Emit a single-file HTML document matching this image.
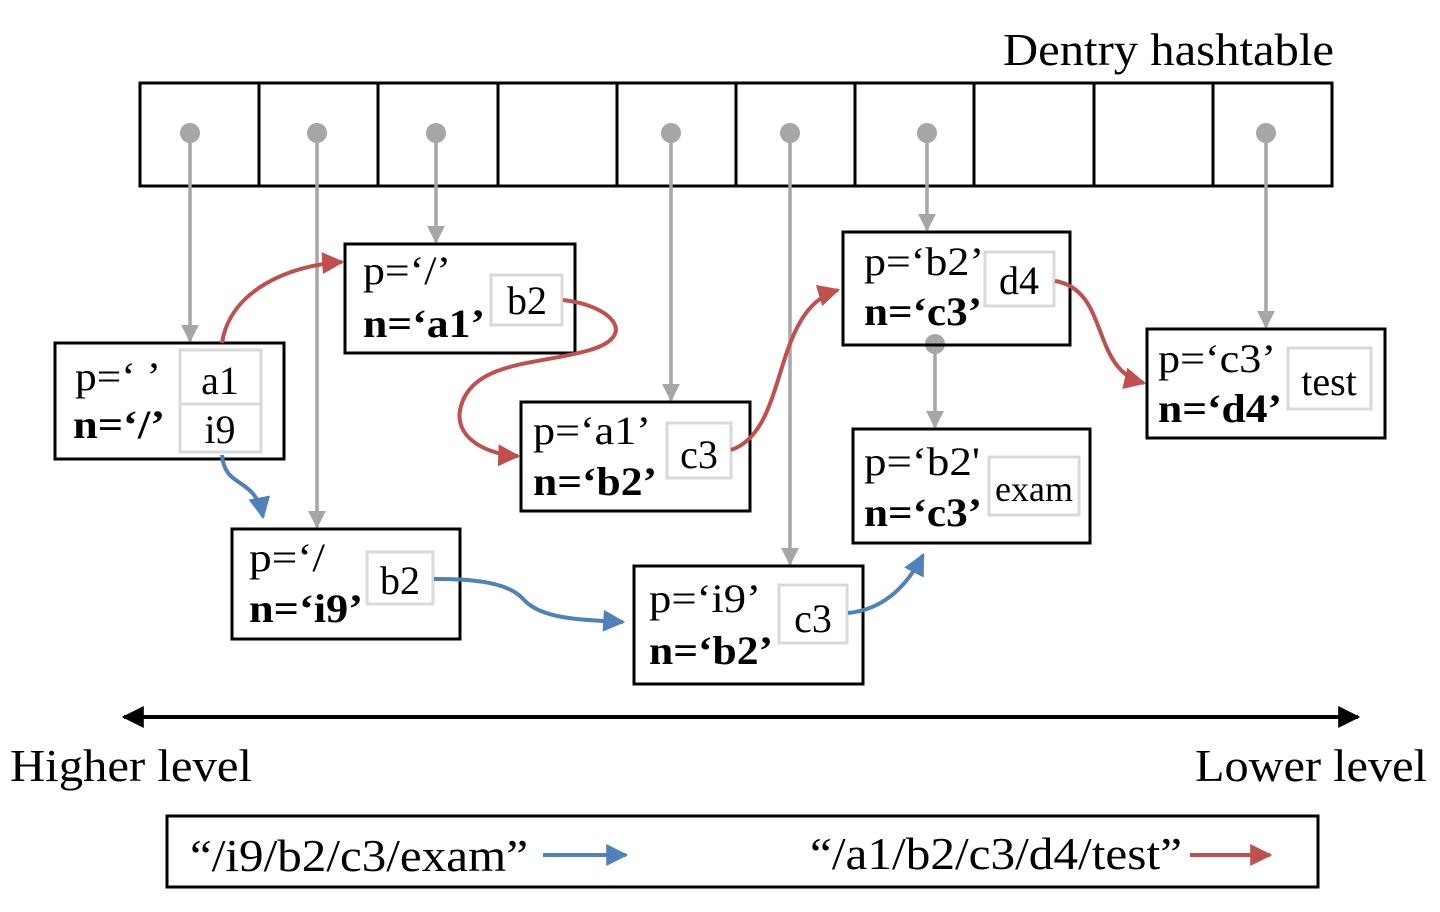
<!DOCTYPE html>
<html><head><meta charset="utf-8"><style>body{margin:0;background:#fff}svg{display:block}text{font-family:"Liberation Serif",serif}</style></head><body>
<svg width="1440" height="912" viewBox="0 0 1440 912" xmlns="http://www.w3.org/2000/svg">
<defs>
<marker id="gA" viewBox="0 0 10 10" refX="9" refY="5" markerWidth="18" markerHeight="18" orient="auto" markerUnits="userSpaceOnUse"><path d="M0,0L10,5L0,10z" fill="#a6a6a6"/></marker>
<marker id="rA" viewBox="0 0 10 10" refX="9" refY="5" markerWidth="22" markerHeight="22" orient="auto" markerUnits="userSpaceOnUse"><path d="M0,0L10,5L0,10z" fill="#c0504d"/></marker>
<marker id="bA" viewBox="0 0 10 10" refX="9" refY="5" markerWidth="22" markerHeight="22" orient="auto" markerUnits="userSpaceOnUse"><path d="M0,0L10,5L0,10z" fill="#4f81bd"/></marker>
<marker id="kA" viewBox="0 0 10 10" refX="9" refY="5" markerWidth="22" markerHeight="22" orient="auto-start-reverse" markerUnits="userSpaceOnUse"><path d="M0,0L10,5L0,10z" fill="#000"/></marker>
</defs>
<text x="1003" y="65" font-size="46" textLength="331" lengthAdjust="spacingAndGlyphs">Dentry hashtable</text>
<rect x="140" y="83" width="1192" height="103" fill="none" stroke="#000" stroke-width="3"/>
<g stroke="#000" stroke-width="3">
<line x1="259" y1="83" x2="259" y2="186"/><line x1="378" y1="83" x2="378" y2="186"/><line x1="498" y1="83" x2="498" y2="186"/><line x1="617" y1="83" x2="617" y2="186"/><line x1="736" y1="83" x2="736" y2="186"/><line x1="855" y1="83" x2="855" y2="186"/><line x1="974" y1="83" x2="974" y2="186"/><line x1="1094" y1="83" x2="1094" y2="186"/><line x1="1213" y1="83" x2="1213" y2="186"/>
</g>
<g fill="#a6a6a6"><circle cx="190" cy="133" r="10"/><circle cx="317" cy="133" r="10"/><circle cx="436" cy="133" r="10"/><circle cx="671" cy="133" r="10"/><circle cx="790" cy="133" r="10"/><circle cx="927" cy="133" r="10"/><circle cx="1266" cy="133" r="10"/><circle cx="935" cy="344" r="10"/></g>
<g stroke="#a6a6a6" stroke-width="3.5" marker-end="url(#gA)">
<line x1="190" y1="133" x2="190" y2="341"/><line x1="317" y1="133" x2="317" y2="527"/><line x1="436" y1="133" x2="436" y2="242"/><line x1="671" y1="133" x2="671" y2="400"/><line x1="790" y1="133" x2="790" y2="564"/><line x1="927" y1="133" x2="927" y2="230"/><line x1="1266" y1="133" x2="1266" y2="327"/><line x1="935" y1="344" x2="935" y2="427"/>
</g>
<g fill="none" stroke="#000" stroke-width="3">
<rect x="55" y="343" width="229" height="116"/><rect x="345" y="244" width="230" height="109"/><rect x="521" y="402" width="229" height="109"/><rect x="232" y="529" width="228" height="110"/><rect x="634" y="566" width="229" height="118"/><rect x="843" y="232" width="227" height="113"/><rect x="853" y="429" width="237" height="114"/><rect x="1147" y="329" width="238" height="109"/>
</g>
<g fill="none" stroke="#d9d9d9" stroke-width="3">
<rect x="180" y="350" width="81" height="54"/><rect x="180" y="404" width="81" height="48"/><rect x="491" y="275" width="71" height="50"/><rect x="667" y="423" width="64" height="55"/><rect x="367" y="552" width="66" height="52"/><rect x="779" y="585" width="68" height="58"/><rect x="985" y="252" width="69" height="54"/><rect x="989" y="457" width="90" height="58"/><rect x="1288" y="348" width="83" height="61"/>
</g>
<g font-size="40">
<text x="75" y="390" textLength="86" lengthAdjust="spacingAndGlyphs">p=‘ ’</text><text x="73" y="438" font-weight="bold" textLength="92" lengthAdjust="spacingAndGlyphs">n=‘/’</text><text x="220" y="394" text-anchor="middle">a1</text><text x="220" y="443" text-anchor="middle">i9</text>
<text x="363" y="284" textLength="88" lengthAdjust="spacingAndGlyphs">p=‘/’</text><text x="363" y="337" font-weight="bold" textLength="122" lengthAdjust="spacingAndGlyphs">n=‘a1’</text><text x="527" y="314" text-anchor="middle">b2</text>
<text x="533" y="444" textLength="118" lengthAdjust="spacingAndGlyphs">p=‘a1’</text><text x="533" y="495" font-weight="bold" textLength="124" lengthAdjust="spacingAndGlyphs">n=‘b2’</text><text x="699" y="468" text-anchor="middle">c3</text>
<text x="249" y="571" textLength="76" lengthAdjust="spacingAndGlyphs">p=‘/</text><text x="249" y="622" font-weight="bold" textLength="114" lengthAdjust="spacingAndGlyphs">n=‘i9’</text><text x="400" y="594" text-anchor="middle">b2</text>
<text x="649" y="612" textLength="112" lengthAdjust="spacingAndGlyphs">p=‘i9’</text><text x="649" y="664" font-weight="bold" textLength="124" lengthAdjust="spacingAndGlyphs">n=‘b2’</text><text x="813" y="632" text-anchor="middle">c3</text>
<text x="864" y="275" textLength="120" lengthAdjust="spacingAndGlyphs">p=‘b2’</text><text x="864" y="325" font-weight="bold" textLength="118" lengthAdjust="spacingAndGlyphs">n=‘c3’</text><text x="1019" y="294" text-anchor="middle">d4</text>
<text x="864" y="475" textLength="116" lengthAdjust="spacingAndGlyphs">p=‘b2'</text><text x="864" y="526" font-weight="bold" textLength="118" lengthAdjust="spacingAndGlyphs">n=‘c3’</text><text x="1034" y="501" text-anchor="middle" font-size="36">exam</text>
<text x="1158" y="372" textLength="118" lengthAdjust="spacingAndGlyphs">p=‘c3’</text><text x="1158" y="422" font-weight="bold" textLength="124" lengthAdjust="spacingAndGlyphs">n=‘d4’</text><text x="1329" y="395" text-anchor="middle">test</text>
</g>
<g fill="none" stroke-width="4">
<path d="M222,343 C230,290 290,265 342,262" stroke="#c0504d" marker-end="url(#rA)"/>
<path d="M563,300 C610,305 640,335 590,350 C540,365 470,360 460,410 C455,440 490,455 518,456" stroke="#c0504d" marker-end="url(#rA)"/>
<path d="M731,450 C790,430 770,310 838,290" stroke="#c0504d" marker-end="url(#rA)"/>
<path d="M1055,281 C1110,290 1090,370 1144,383" stroke="#c0504d" marker-end="url(#rA)"/>
<path d="M222,455 C225,490 255,475 263,517" stroke="#4f81bd" marker-end="url(#bA)"/>
<path d="M434,579 C520,578 520,600 530,605 C550,620 590,620 623,622" stroke="#4f81bd" marker-end="url(#bA)"/>
<path d="M848,613 C880,610 905,590 923,555" stroke="#4f81bd" marker-end="url(#bA)"/>
</g>
<line x1="124" y1="717" x2="1358" y2="717" stroke="#000" stroke-width="4" marker-start="url(#kA)" marker-end="url(#kA)"/>
<text x="10" y="781" font-size="46" textLength="242" lengthAdjust="spacingAndGlyphs">Higher level</text>
<text x="1195" y="781" font-size="46" textLength="232" lengthAdjust="spacingAndGlyphs">Lower level</text>
<rect x="167" y="816" width="1151" height="71" fill="none" stroke="#000" stroke-width="3"/>
<text x="190" y="871" font-size="46" textLength="338" lengthAdjust="spacingAndGlyphs">“/i9/b2/c3/exam”</text>
<line x1="543" y1="855" x2="626" y2="855" stroke="#4f81bd" stroke-width="4" marker-end="url(#bA)"/>
<text x="810" y="869" font-size="46" textLength="372" lengthAdjust="spacingAndGlyphs">“/a1/b2/c3/d4/test”</text>
<line x1="1190" y1="855" x2="1270" y2="855" stroke="#c0504d" stroke-width="4" marker-end="url(#rA)"/>
</svg>
</body></html>
